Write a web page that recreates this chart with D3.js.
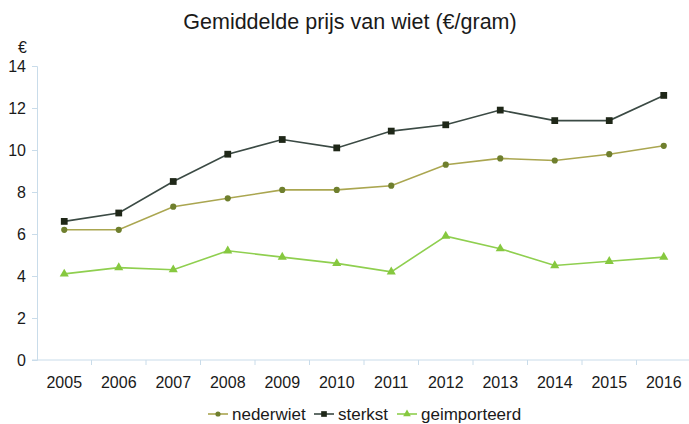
<!DOCTYPE html>
<html>
<head>
<meta charset="utf-8">
<style>
  body { margin: 0; background: #fff; font-family: "Liberation Sans", Arial, sans-serif; }
  svg { display: block; }
</style>
<title>Gemiddelde prijs van wiet</title>
</head>
<body>
<script src="https://cdn.jsdelivr.net/npm/d3@7"></script>
<script>

var years = ["2005","2006","2007","2008","2009","2010","2011","2012","2013","2014","2015","2016"];
var nederwiet    = [6.2, 6.2, 7.3, 7.7, 8.1, 8.1, 8.3, 9.3, 9.6, 9.5, 9.8, 10.2];
var sterkst      = [6.6, 7.0, 8.5, 9.8, 10.5, 10.1, 10.9, 11.2, 11.9, 11.4, 11.4, 12.6];
var geimporteerd = [4.1, 4.4, 4.3, 5.2, 4.9, 4.6, 4.2, 5.9, 5.3, 4.5, 4.7, 4.9];
var yTicks = [0, 2, 4, 6, 8, 10, 12, 14];

var series = [
  {name: "nederwiet", values: nederwiet, line: "#aaa650", mark: "#6f7f2e", shape: d3.symbolCircle, size: 30},
  {name: "sterkst", values: sterkst, line: "#3b4a44", mark: "#1f2718", shape: d3.symbolSquare, size: 46},
  {name: "geimporteerd", values: geimporteerd, line: "#8fcf4f", mark: "#86c83f", shape: d3.symbolTriangle, size: 36}
];

var W = 689, H = 424;
var plotL = 37, plotR = 691, plotT = 66, plotB = 360;

var svg = d3.select("body").append("svg")
  .attr("width", W)
  .attr("height", H);

var x = d3.scaleBand().domain(years).range([plotL, plotR]);
var y = d3.scaleLinear().domain([0, 14]).range([plotB, plotT]);

var axisColor = "#c9dcea";

// title
svg.append("text")
  .attr("x", 350).attr("y", 29)
  .attr("text-anchor", "middle")
  .style("font-size", "21.5px")
  .style("fill", "#1a1a1a")
  .text("Gemiddelde prijs van wiet (€/gram)");

// euro label
svg.append("text")
  .attr("x", 27).attr("y", 53)
  .attr("text-anchor", "end")
  .style("font-size", "16px")
  .style("fill", "#1a1a1a")
  .text("€");

// y axis
var yAxis = d3.axisLeft(y).tickValues(yTicks).tickSize(5).tickPadding(6);
var gy = svg.append("g")
  .attr("transform", "translate(" + plotL + ",0)")
  .call(yAxis);
gy.select(".domain").attr("stroke", axisColor);
gy.selectAll(".tick line").attr("stroke", axisColor);
gy.selectAll(".tick text")
  .style("font-size", "16px")
  .style("font-family", "Liberation Sans, Arial, sans-serif")
  .attr("fill", "#1a1a1a");

// x axis: line plus ticks at band boundaries
var gx = svg.append("g").attr("transform", "translate(0," + plotB + ")");
gx.append("line")
  .attr("x1", plotL - 5).attr("x2", plotR)
  .attr("stroke", axisColor);
gx.selectAll(".sep")
  .data(years)
  .enter().append("line")
  .attr("x1", function(d) { return x(d) + x.bandwidth(); })
  .attr("x2", function(d) { return x(d) + x.bandwidth(); })
  .attr("y1", 0).attr("y2", 5)
  .attr("stroke", axisColor);
gx.selectAll(".lbl")
  .data(years)
  .enter().append("text")
  .attr("x", function(d) { return x(d) + x.bandwidth() / 2; })
  .attr("y", 28)
  .attr("text-anchor", "middle")
  .style("font-size", "16px")
  .style("fill", "#1a1a1a")
  .text(function(d) { return d; });

var line = d3.line()
  .x(function(d, i) { return x(years[i]) + x.bandwidth() / 2; })
  .y(function(d) { return y(d); });

series.forEach(function(s) {
  svg.append("path")
    .datum(s.values)
    .attr("fill", "none")
    .attr("stroke", s.line)
    .attr("stroke-width", 1.6)
    .attr("d", line);

  svg.selectAll(".m-" + s.name)
    .data(s.values)
    .enter().append("path")
    .attr("d", d3.symbol().type(s.shape).size(s.size))
    .attr("transform", function(d, i) {
      return "translate(" + (x(years[i]) + x.bandwidth() / 2) + "," + y(d) + ")";
    })
    .attr("fill", s.mark);
});

// legend
var legX = [208, 314, 397];
var leg = svg.selectAll(".leg")
  .data(series)
  .enter().append("g")
  .attr("transform", function(d, i) { return "translate(" + legX[i] + ",414)"; });
leg.append("line")
  .attr("x1", 0).attr("x2", 20)
  .attr("stroke", function(d) { return d.line; })
  .attr("stroke-width", 1.6);
leg.append("path")
  .attr("d", function(d) { return d3.symbol().type(d.shape).size(d.size * 0.7)(); })
  .attr("transform", "translate(10,0)")
  .attr("fill", function(d) { return d.mark; });
leg.append("text")
  .attr("x", 24).attr("y", 6)
  .style("font-size", "17px")
  .style("fill", "#1a1a1a")
  .text(function(d) { return d.name; });

</script>
</body>
</html>
